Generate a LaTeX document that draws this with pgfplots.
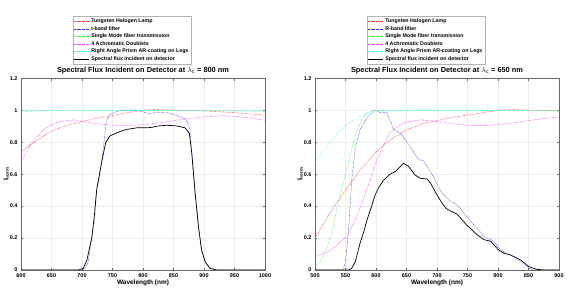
\documentclass[border=0pt]{standalone}
\usepackage{fontspec}
\setmainfont{Liberation Sans}
\usepackage{pgfplots}
\pgfplotsset{compat=1.18}
\definecolor{mred}{rgb}{1,0.2,0.2}
\definecolor{mblue}{rgb}{0.2,0.2,1}
\definecolor{mgreen}{rgb}{0.2,1,0.2}
\definecolor{mmag}{rgb}{1,0.2,1}
\definecolor{mcyan}{rgb}{0.2,1,1}
\pgfplotsset{
  myax/.style={
    scale only axis, width=244bp, height=191.7bp,
    ymin=0, ymax=1.2, ytick={0,0.2,...,1.2},
    yticklabels={0,0.2,0.4,0.6,0.8,1,1.2},
    grid=major, major grid style={gray!15, line width=0.3pt},
    axis line style={gray!80!black, line width=0.4pt},
    tick style={gray!80!black, line width=0.3pt}, tick align=inside,
    major tick length=2.5pt,
    ticklabel style={font=\fontsize{5.5}{6}\selectfont\bfseries},
    /pgf/number format/assume math mode=true,
    /pgf/number format/1000 sep={},
    xtick distance=50,
    xlabel={Wavelength (nm)}, ylabel={I\textsubscript{norm}},
    label style={font=\fontsize{6.5}{7}\selectfont\bfseries},
    xlabel style={yshift=4pt}, ylabel style={yshift=-6pt},
    title style={font=\fontsize{7.4}{8}\selectfont\bfseries, yshift=-5.5pt},
    legend cell align=left,
    legend style={font=\fontsize{5.3}{5.6}\selectfont\bfseries, draw=gray!60, line width=0.4pt,
      at={(0.455,1.325)}, anchor=north, inner sep=0.8pt, row sep=-1.8pt, fill=white},
    legend image code/.code={\draw[#1] (0bp,0bp) -- (15bp,0bp);},
    dl/.style={line width=0.55pt, dash pattern=on 0.5pt off 0.8pt},
  }
}
\begin{document}
\begin{tikzpicture}
\useasboundingbox (0,0) rectangle (568bp,292bp);
\begin{axis}[myax, at={(21bp,22bp)}, anchor=south west, xmin=600, xmax=1000,
  title={Spectral Flux Incident on Detector at $\lambda_{\mathrm{c}}$ = 800 nm}]
\addplot[dl, mred] coordinates {(600,0.74)(625,0.81)(650,0.87)(675,0.905)(700,0.93)(725,0.95)(750,0.967)(775,0.985)(800,1.0)(825,1.005)(850,1.0)(900,0.996)(950,0.985)(1000,0.969)};
\addlegendentry{Tungsten Halogen Lamp}
\addplot[dl, mblue] coordinates {(600,0)(700,0)(705,0.01)(710,0.05)(716,0.2)(720,0.3)(724,0.5)(732,0.67)(736,0.8)(740,0.93)(745,0.97)(755,0.99)(768,1.0)(790,1.0)(800,0.99)(810,0.98)(820,0.985)(840,0.985)(850,0.975)(860,0.96)(870,0.945)(874,0.92)(877,0.87)(880,0.74)(885,0.5)(891,0.27)(896,0.125)(902,0.05)(910,0.01)(921,0)(1000,0)};
\addlegendentry{I-band filter}
\addplot[dl, mgreen] coordinates {(600,0.999)(700,0.999)(800,0.999)(900,0.997)(1000,0.995)};
\addlegendentry{Single Mode fiber transmission}
\addplot[dl, mmag] coordinates {(600,0.672)(612,0.76)(625,0.83)(637,0.88)(650,0.91)(665,0.93)(687,0.94)(700,0.93)(725,0.915)(750,0.906)(775,0.904)(800,0.91)(825,0.92)(850,0.935)(875,0.948)(900,0.958)(930,0.966)(950,0.963)(975,0.952)(1000,0.937)};
\addlegendentry{4 Achromatic Doublets}
\addplot[dl, mcyan] coordinates {(600,0.99)(625,0.995)(650,0.998)(700,1.0)(800,1.0)(900,0.998)(1000,0.996)};
\addlegendentry{Right Angle Prism AR-coating on Legs}
\addplot[black, line width=0.7pt] coordinates {(600,0)(694,0)(702,0.01)(708,0.06)(713,0.15)(716,0.2)(720,0.33)(724,0.5)(732,0.67)(739,0.8)(746,0.84)(755,0.855)(762,0.866)(773,0.88)(790,0.89)(806,0.89)(815,0.893)(822,0.9)(839,0.906)(855,0.902)(869,0.89)(873,0.87)(876,0.855)(880,0.73)(885,0.5)(891,0.27)(896,0.125)(902,0.05)(910,0.01)(921,0)(1000,0)};
\addlegendentry{Spectral flux incident on detector}
\end{axis}
\begin{axis}[myax, at={(315bp,22bp)}, anchor=south west, xmin=500, xmax=900,
  title={Spectral Flux Incident on Detector at $\lambda_{\mathrm{c}}$ = 650 nm}]
\addplot[dl, mred] coordinates {(500,0.2)(525,0.36)(550,0.5)(575,0.63)(600,0.74)(625,0.82)(650,0.875)(675,0.915)(700,0.935)(725,0.955)(750,0.97)(775,0.985)(800,1.0)(825,1.005)(850,1.0)(900,0.997)};
\addlegendentry{Tungsten Halogen Lamp}
\addplot[dl, mblue] coordinates {(500,0)(546,0)(550,0.05)(555,0.25)(560,0.55)(566,0.77)(574,0.88)(586,0.96)(598,1.0)(607,0.985)(618,0.985)(629,0.88)(642,0.85)(656,0.77)(670,0.69)(678,0.685)(694,0.585)(708,0.48)(722,0.43)(733,0.41)(749,0.334)(766,0.26)(777,0.21)(793,0.18)(804,0.125)(826,0.083)(837,0.05)(851,0.01)(859,0)(900,0)};
\addlegendentry{R-band filter}
\addplot[dl, mgreen] coordinates {(500,0.02)(510,0.06)(520,0.14)(530,0.28)(540,0.45)(550,0.6)(560,0.76)(570,0.89)(580,0.96)(590,0.995)(600,1.0)(700,1.0)(800,0.998)(900,0.995)};
\addlegendentry{Single Mode fiber transmission}
\addplot[dl, mmag] coordinates {(500,0.083)(525,0.12)(552,0.21)(565,0.3)(579,0.44)(590,0.56)(601,0.68)(612,0.78)(623,0.86)(635,0.895)(645,0.92)(660,0.932)(673,0.94)(700,0.93)(725,0.915)(750,0.906)(775,0.904)(800,0.91)(825,0.92)(850,0.935)(875,0.948)(900,0.958)};
\addlegendentry{4 Achromatic Doublets}
\addplot[dl, mcyan] coordinates {(500,0.668)(512,0.74)(525,0.8)(537,0.855)(550,0.9)(562,0.935)(575,0.96)(590,0.99)(600,1.0)(700,1.0)(800,1.0)(900,0.996)};
\addlegendentry{Right Angle Prism AR-coating on Legs}
\addplot[black, line width=0.7pt] coordinates {(500,0)(555,0)(560,0.01)(566,0.05)(570,0.11)(574,0.17)(580,0.24)(585,0.31)(592,0.39)(598.6,0.47)(605,0.52)(612,0.56)(623,0.6)(631.5,0.616)(638,0.64)(645,0.668)(653,0.65)(664,0.595)(672.6,0.574)(683.6,0.57)(690,0.54)(697,0.49)(708,0.42)(715,0.385)(722,0.37)(733,0.35)(749,0.28)(766,0.22)(777,0.19)(788,0.18)(801,0.125)(810,0.105)(820.6,0.094)(837,0.063)(851,0.02)(864,0.004)(875,0)(900,0)};
\addlegendentry{Spectral flux incident on detector}
\end{axis}
\end{tikzpicture}
\end{document}
